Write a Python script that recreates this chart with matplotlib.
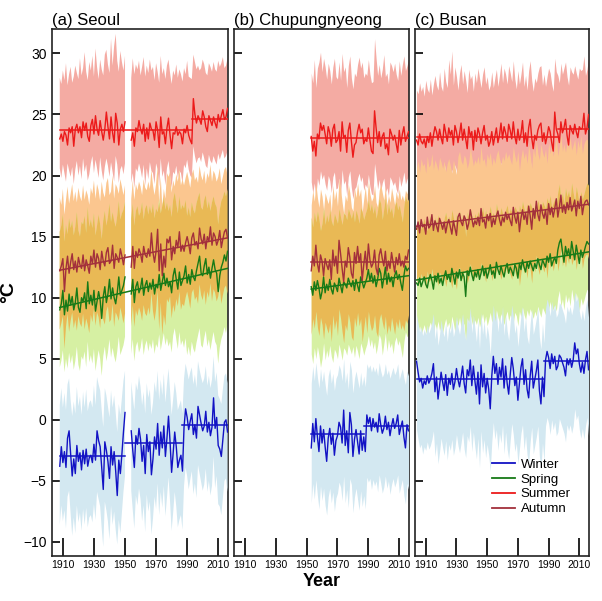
import numpy as np
import matplotlib
matplotlib.use("Agg")
import matplotlib.pyplot as plt

plt.rcParams['font.family'] = ['Liberation Sans', 'DejaVu Sans']
nan = np.nan

station_titles = ["(a) Seoul", "(b) Chupungnyeong", "(c) Busan"]
season_names = ["Winter", "Spring", "Summer", "Autumn"]
x_ticks = [1910, 1930, 1950, 1970, 1990, 2010]
y_ticks = [-10, -5, 0, 5, 10, 15, 20, 25, 30]

# ---------------- Seoul (1908-2016, 1951-1953 missing) ----------------
seoul_years = list(range(1908, 2017))
seoul_summer = [
    23.0, 23.4, 22.8, 23.6, 23.3, 22.5, 23.9, 23.5, 24.0, 22.4,
    23.8, 24.2, 23.5, 24.0, 23.1, 24.4, 23.7, 24.3, 23.2, 22.8,
    24.1, 24.6, 23.4, 24.9, 23.8, 23.3, 24.5, 23.6, 22.9, 23.8,
    25.2, 24.0, 23.0, 24.8, 23.5, 22.7, 25.1, 24.3, 22.5, 23.8,
    24.2, 23.6, 24.4, nan, nan, nan, 22.9, 23.5, 22.4, 23.9,
    23.6, 24.5, 23.8, 23.4, 24.2, 22.8, 23.9, 23.0, 24.3, 23.8,
    23.7, 22.9, 24.4, 23.7, 22.3, 24.8, 23.4, 23.6, 22.6, 23.9,
    24.7, 23.3, 22.2, 23.5, 23.4, 24.0, 23.3, 23.6, 23.4, 22.6,
    23.8, 23.5, 24.1, 23.3, 22.9, 22.6, 26.3, 25.0, 24.3, 24.9,
    24.6, 24.2, 25.3, 24.8, 24.0, 23.6, 24.9, 24.5, 24.1, 24.8,
    24.3, 23.9, 25.0, 24.4, 24.9, 25.4, 24.6, 24.8, 25.5]
seoul_summer_hi = [
    28.0, 27.5, 28.6, 27.8, 29.2, 27.4, 28.3, 28.9, 27.6, 28.1,
    29.0, 28.4, 27.9, 29.6, 28.2, 28.8, 30.1, 28.5, 27.8, 29.3,
    28.6, 29.8, 28.1, 30.4, 28.9, 27.9, 29.5, 28.7, 28.2, 29.9,
    30.3, 29.1, 28.4, 31.2, 29.0, 30.6, 31.6, 29.4, 28.5, 30.2,
    29.3, 28.6, 29.8, nan, nan, nan, 28.0, 29.6, 28.3, 29.1,
    28.7, 29.4, 28.2, 28.9, 29.7, 28.1, 29.0, 28.4, 29.5, 28.6,
    28.9, 27.8, 29.2, 28.5, 27.6, 29.8, 28.3, 28.8, 27.9, 29.0,
    29.5, 28.4, 27.5, 28.6, 28.2, 29.1, 28.0, 28.7, 28.3, 27.7,
    28.8, 28.3, 29.4, 28.1, 28.0, 27.9, 29.9, 29.3, 28.7, 29.0,
    28.6, 28.8, 29.5, 29.1, 28.4, 28.2, 29.2, 28.9, 28.5, 29.3,
    28.7, 28.5, 29.4, 28.9, 29.2, 29.7, 28.8, 29.0, 29.6]
seoul_summer_lo = [
    20.6, 19.8, 20.9, 20.2, 19.5, 21.0, 20.4, 19.9, 20.7, 19.3,
    20.5, 21.2, 20.0, 20.8, 19.7, 21.4, 20.3, 20.9, 19.6, 20.1,
    21.0, 21.6, 20.2, 21.3, 20.6, 19.8, 21.5, 20.4, 19.6, 20.7,
    21.4, 20.8, 19.9, 21.1, 20.3, 19.5, 21.6, 20.9, 19.4, 20.5,
    20.8, 20.1, 21.0, nan, nan, nan, 19.4, 20.2, 19.0, 20.6,
    20.3, 21.0, 20.5, 19.8, 20.9, 19.2, 20.6, 19.7, 21.1, 20.4,
    20.2, 19.3, 21.0, 20.5, 19.1, 21.4, 19.9, 20.4, 19.2, 20.6,
    21.2, 20.0, 19.0, 20.3, 20.1, 20.8, 19.8, 20.4, 20.2, 19.4,
    20.9, 20.6, 21.3, 20.5, 20.0, 19.8, 22.4, 21.6, 21.0, 21.4,
    21.5, 21.1, 21.9, 21.4, 20.8, 20.6, 21.7, 21.2, 21.0, 21.6,
    21.2, 20.9, 21.8, 21.3, 21.7, 22.1, 21.4, 21.6, 22.0]
seoul_autumn = [
    12.2, 12.6, 13.2, 10.5, 12.4, 13.4, 12.0, 12.9, 13.6, 12.3,
    13.0, 12.1, 13.3, 12.7, 12.4, 13.5, 12.2, 13.1, 12.6, 12.0,
    13.4, 12.8, 13.9, 12.5, 13.6, 13.2, 12.3, 13.8, 13.0, 12.6,
    13.7, 14.1, 12.8, 13.0, 14.3, 12.4, 13.6, 13.3, 12.9, 14.0,
    13.4, 12.7, 13.5, nan, nan, nan, 12.5, 14.2, 12.4, 13.8,
    13.3, 14.0, 13.6, 12.9, 14.2, 13.5, 13.3, 14.0, 13.4, 15.3,
    13.7, 12.9, 13.8, 15.6, 12.2, 14.4, 11.8, 13.4, 12.5, 14.8,
    14.5, 15.0, 13.1, 14.2, 13.6, 14.7, 14.1, 15.4, 13.8, 14.3,
    13.8, 14.5, 15.0, 14.4, 13.6, 14.9, 15.3, 14.3, 14.6, 14.0,
    15.7, 14.8, 14.4, 15.2, 14.0, 15.0, 14.6, 15.8, 14.3, 15.3,
    15.0, 14.3, 14.7, 15.5, 14.1, 14.8, 15.4, 15.6, 14.9]
seoul_autumn_hi = [
    18.2, 17.6, 18.9, 16.8, 18.0, 19.1, 17.7, 18.5, 19.3, 17.9,
    18.7, 17.8, 19.0, 18.3, 17.9, 19.2, 18.0, 18.8, 18.4, 17.6,
    19.0, 18.5, 19.6, 18.1, 19.3, 18.8, 17.9, 19.5, 18.6, 18.2,
    19.4, 19.8, 18.4, 18.7, 20.0, 18.1, 19.3, 19.0, 18.5, 19.7,
    19.1, 18.4, 19.2, nan, nan, nan, 18.1, 19.6, 18.0, 19.3,
    18.8, 19.5, 19.1, 18.4, 19.7, 19.0, 18.8, 19.5, 18.9, 20.5,
    19.2, 18.4, 19.3, 20.8, 17.8, 19.9, 17.5, 18.9, 18.1, 20.2,
    19.9, 20.3, 18.6, 19.6, 19.1, 20.1, 19.5, 20.6, 19.2, 19.7,
    19.2, 19.8, 20.3, 19.7, 19.0, 20.1, 20.5, 19.6, 19.9, 19.4,
    20.8, 20.0, 19.6, 20.4, 19.3, 20.2, 19.8, 20.9, 19.5, 20.4,
    20.1, 19.5, 19.9, 20.6, 19.3, 19.9, 20.5, 20.7, 20.0]
seoul_autumn_lo = [
    7.4, 7.9, 8.5, 5.8, 7.6, 8.7, 7.2, 8.1, 8.8, 7.5,
    8.2, 7.3, 8.5, 7.9, 7.6, 8.7, 7.4, 8.3, 7.8, 7.1,
    8.6, 8.0, 9.1, 7.7, 8.8, 8.4, 7.5, 9.0, 8.2, 7.8,
    8.9, 9.3, 8.0, 8.2, 9.5, 7.6, 8.8, 8.5, 8.1, 9.2,
    8.6, 7.9, 8.7, nan, nan, nan, 7.7, 9.4, 7.6, 9.0,
    8.5, 9.2, 8.8, 8.1, 9.4, 8.7, 8.5, 9.2, 8.6, 10.4,
    8.9, 8.1, 9.0, 10.6, 7.4, 9.6, 7.0, 8.6, 7.7, 9.9,
    9.6, 10.1, 8.3, 9.4, 8.8, 9.9, 9.3, 10.5, 9.0, 9.5,
    9.3, 10.0, 10.5, 9.9, 9.1, 10.4, 10.7, 9.8, 10.1, 9.5,
    11.1, 10.2, 9.8, 10.6, 9.4, 10.5, 10.0, 11.2, 9.7, 10.7,
    10.4, 9.7, 10.1, 10.9, 9.5, 10.2, 10.8, 11.0, 10.3]
seoul_spring = [
    9.0, 9.5, 10.6, 8.6, 9.8, 8.9, 10.3, 9.4, 10.1, 9.0,
    9.6, 10.8, 9.2, 8.8, 10.0, 9.7, 10.4, 9.1, 11.3, 9.5,
    10.2, 9.4, 10.6, 8.9, 9.7, 10.5, 9.8, 8.3, 10.1, 10.9,
    9.6, 10.3, 11.5, 9.9, 10.8, 10.0, 9.5, 10.4, 11.7, 10.2,
    10.6, 11.0, 11.7, nan, nan, nan, 10.3, 11.5, 9.6, 10.9,
    11.3, 10.4, 10.8, 11.6, 10.2, 11.0, 11.4, 10.5, 11.2, 10.7,
    11.5, 10.3, 11.1, 10.8, 11.9, 10.6, 11.3, 12.0, 11.0, 11.6,
    10.9, 11.3, 10.4, 11.8, 12.4, 11.5, 10.7, 12.1, 11.0, 11.4,
    11.8, 12.6, 11.2, 11.9, 11.1, 12.3, 11.7, 11.4, 12.2, 12.8,
    13.4, 12.0, 11.8, 12.6, 13.2, 11.9, 12.5, 11.6, 12.4, 13.1,
    12.3, 12.0, 10.5, 11.8, 12.5, 12.9, 13.5, 13.0, 13.8]
seoul_spring_hi = [
    15.4, 15.9, 16.8, 14.6, 16.0, 15.2, 16.5, 15.7, 16.3, 15.1,
    15.8, 17.0, 15.5, 15.0, 16.2, 16.0, 16.7, 15.3, 17.4, 15.8,
    16.4, 15.7, 16.9, 15.1, 15.9, 16.8, 16.0, 14.8, 16.3, 17.1,
    15.9, 16.6, 17.7, 16.2, 17.0, 16.3, 15.8, 16.7, 17.9, 16.4,
    16.9, 17.2, 17.8, nan, nan, nan, 16.5, 17.7, 15.9, 17.1,
    17.5, 16.7, 17.0, 17.8, 16.4, 17.3, 17.6, 16.8, 17.5, 16.9,
    17.7, 16.5, 17.3, 17.0, 18.1, 16.9, 17.5, 18.2, 17.2, 17.8,
    17.1, 17.6, 16.6, 18.0, 18.6, 17.7, 16.9, 18.3, 17.2, 17.6,
    17.3, 18.0, 16.7, 17.4, 16.6, 17.8, 17.2, 16.9, 17.7, 18.2,
    18.6, 17.4, 17.2, 18.0, 18.4, 17.3, 17.9, 17.1, 17.8, 18.3,
    17.7, 17.4, 16.0, 17.2, 17.9, 18.2, 18.7, 18.3, 18.9]
seoul_spring_lo = [
    4.3, 4.8, 5.7, 3.9, 5.0, 4.2, 5.5, 4.6, 5.3, 4.1,
    4.8, 6.0, 4.5, 4.0, 5.2, 4.9, 5.6, 4.3, 6.4, 4.7,
    5.3, 4.6, 5.8, 4.0, 4.9, 5.7, 5.0, 3.6, 5.2, 6.0,
    4.8, 5.5, 6.6, 5.1, 5.9, 5.2, 4.7, 5.6, 6.8, 5.3,
    5.7, 6.1, 6.8, nan, nan, nan, 5.4, 6.6, 4.8, 6.0,
    6.4, 5.5, 5.9, 6.7, 5.3, 6.1, 6.5, 5.6, 6.3, 5.8,
    6.6, 5.4, 6.2, 5.9, 7.0, 5.7, 6.4, 7.1, 6.1, 6.7,
    6.0, 6.4, 5.5, 6.9, 7.5, 6.6, 5.8, 7.2, 6.1, 6.5,
    5.9, 6.7, 5.3, 6.0, 5.2, 6.4, 5.8, 5.5, 6.3, 6.9,
    7.5, 6.1, 5.9, 6.7, 7.3, 6.0, 6.6, 5.7, 6.5, 7.2,
    6.4, 6.1, 4.6, 5.9, 6.6, 7.0, 7.6, 7.1, 7.9]
seoul_winter = [
    -3.8, -2.2, -3.5, -2.6, -3.9, -1.5, -0.9, -2.8, -4.6, -3.2,
    -4.4, -2.1, -3.4, -2.7, -4.1, -2.5, -3.6, -2.4, -3.8, -3.1,
    -2.9, -3.5, -2.0, -3.3, -0.9, -1.7, -2.2, -3.9, -5.7, -1.8,
    -2.5, -3.4, -4.8, -2.2, -3.7, -2.6, -4.2, -6.2, -3.3, -4.4,
    -2.8, -1.0, 0.6, nan, nan, nan, -0.9, -2.5, -3.9, -1.3,
    -2.0, -0.7, -1.6, -3.4, -2.1, -4.4, -1.2, -2.6, -1.8, -4.5,
    -3.2, -1.4, -2.4, -0.3, -2.9, -1.0, -2.3, -0.5, -3.0, -1.5,
    0.3, -1.8, -4.3, -2.7, -1.0, -2.2, -3.9, -3.3, -2.9, -4.2,
    -0.6, 0.9, 0.2, -0.8, -0.1, 0.5, -1.2, -0.4, -1.5, 1.1,
    0.4, -0.3, -0.9, -0.5, 0.7, -1.0, -0.2, -1.3, -0.6, 1.8,
    -0.7, 0.2, -2.1, -2.4, -3.0, -1.6, -0.2, 0.0, -1.0]
seoul_winter_hi = [
    1.2, 2.6, 1.0, 2.2, 0.8, 2.9, 3.4, 1.6, 0.3, 1.5,
    0.5, 2.7, 1.1, 1.9, 0.4, 2.3, 1.0, 2.5, 0.7, 1.4,
    1.6, 1.0, 2.8, 1.2, 3.5, 2.9, 2.4, 0.8, -0.6, 2.6,
    2.0, 1.1, 0.2, 2.4, 1.0, 2.0, 0.6, -1.0, 1.3, 0.4,
    1.8, 3.2, 4.0, nan, nan, nan, 3.1, 1.9, 0.8, 3.0,
    2.4, 3.6, 2.7, 1.2, 2.3, 0.5, 3.0, 1.8, 2.5, 0.4,
    1.4, 3.1, 2.2, 4.0, 1.6, 3.3, 2.0, 3.8, 1.4, 2.9,
    4.2, 2.4, 0.4, 1.7, 3.1, 2.2, 0.8, 1.2, 1.6, 0.5,
    3.4, 4.6, 4.0, 3.3, 3.9, 4.3, 2.9, 3.7, 2.6, 4.8,
    4.1, 3.5, 3.0, 3.4, 4.4, 2.8, 3.6, 2.6, 3.3, 5.2,
    3.1, 3.9, 2.0, 1.7, 1.3, 2.5, 3.6, 3.8, 3.0]
seoul_winter_lo = [
    -8.6, -7.0, -8.3, -7.4, -8.9, -6.3, -5.8, -7.7, -9.5, -8.0,
    -9.3, -7.0, -8.4, -7.6, -9.1, -7.3, -8.6, -7.2, -8.8, -8.0,
    -7.8, -8.4, -6.9, -8.2, -5.9, -6.5, -7.1, -8.9, -10.4, -6.7,
    -7.4, -8.3, -9.8, -7.0, -8.6, -7.5, -9.0, -10.2, -8.2, -9.3,
    -7.6, -5.9, -4.6, nan, nan, nan, -5.8, -7.4, -8.9, -6.2,
    -7.0, -5.6, -6.5, -8.3, -7.0, -9.2, -6.1, -7.5, -6.7, -9.4,
    -8.1, -6.3, -7.3, -5.2, -7.8, -5.9, -7.2, -5.4, -7.9, -6.4,
    -4.7, -6.7, -9.1, -7.6, -5.9, -7.1, -8.8, -8.2, -7.8, -9.0,
    -5.4, -3.9, -4.6, -5.7, -4.9, -4.2, -6.1, -5.2, -6.4, -3.7,
    -4.4, -5.1, -5.8, -5.3, -4.0, -5.9, -5.0, -6.2, -5.4, -3.0,
    -5.6, -4.6, -6.9, -7.1, -7.8, -6.4, -5.0, -4.8, -5.9]

# ---------------- Chupungnyeong (1953-2016) ----------------
chup_years = list(range(1953, 2017))
chup_summer = [
    23.2, 22.0, 22.8, 21.6, 23.4, 23.0, 24.3, 23.7, 24.1, 23.4,
    22.6, 24.0, 23.5, 22.4, 23.8, 24.2, 22.7, 22.9, 23.6, 22.0,
    24.4, 23.1, 23.3, 21.9, 23.7, 24.3, 22.8, 21.5, 22.5, 22.7,
    23.6, 24.2, 23.5, 23.8, 22.6, 23.0, 22.8, 23.9, 22.9, 22.0,
    21.8, 25.3, 23.9, 22.7, 23.6, 22.4, 23.2, 23.5, 22.2, 22.6,
    21.7, 23.8, 23.4, 22.9, 23.3, 22.6, 21.9, 23.7, 22.5, 23.4,
    24.0, 22.8, 23.2, 23.6]
chup_summer_hi = [
    28.4, 27.6, 29.5, 27.2, 28.8, 29.3, 30.1, 28.5, 29.6, 28.9,
    27.9, 29.2, 28.6, 27.5, 28.9, 29.6, 28.1, 27.9, 29.3, 27.8,
    30.0, 28.5, 28.9, 27.2, 29.0, 29.8, 28.0, 27.1, 28.4, 28.1,
    29.1, 29.7, 28.8, 29.3, 28.0, 28.4, 28.2, 29.5, 28.3, 27.6,
    27.7, 31.2, 29.6, 28.2, 29.1, 28.0, 28.7, 29.9, 28.1, 28.4,
    27.5, 29.3, 29.0, 28.5, 29.2, 28.3, 27.8, 29.4, 28.2, 29.1,
    29.8, 28.6, 29.0, 29.5]
chup_summer_lo = [
    19.5, 18.6, 19.4, 18.2, 19.8, 19.2, 20.4, 19.7, 20.1, 19.3,
    18.8, 20.0, 19.6, 18.6, 19.9, 20.3, 18.9, 19.0, 19.8, 18.4,
    20.5, 19.3, 19.6, 18.3, 19.9, 20.4, 19.0, 18.1, 18.9, 19.1,
    19.8, 20.2, 19.5, 19.9, 18.8, 19.3, 19.0, 20.1, 19.1, 18.5,
    18.4, 21.0, 20.0, 18.9, 19.7, 18.7, 19.4, 19.8, 18.6, 19.0,
    18.3, 19.9, 19.6, 19.2, 19.5, 18.9, 18.5, 20.0, 19.1, 19.6,
    20.3, 19.3, 19.7, 20.0]
chup_autumn = [
    12.2, 13.4, 12.6, 14.3, 12.8, 12.1, 13.5, 13.0, 11.8, 13.2,
    12.7, 12.3, 13.1, 11.5, 13.9, 12.6, 13.4, 12.0, 14.7, 13.6,
    12.4, 11.3, 13.0, 12.5, 14.1, 13.3, 12.0, 11.6, 13.7, 12.8,
    14.2, 12.9, 13.6, 11.4, 12.7, 13.8, 12.3, 14.4, 13.1, 12.5,
    12.8, 13.9, 12.4, 11.9, 13.5, 14.0, 13.2, 12.6, 13.8, 12.2,
    13.0, 12.4, 13.7, 12.9, 12.1, 13.3, 12.7, 13.6, 12.6, 13.0,
    12.5, 13.4, 13.1, 13.9]
chup_autumn_hi = [
    17.6, 18.8, 17.9, 19.4, 18.2, 17.4, 18.9, 18.3, 17.2, 18.6,
    18.1, 17.7, 18.5, 17.0, 19.2, 18.0, 18.8, 17.5, 19.8, 18.9,
    17.8, 16.9, 18.4, 17.9, 19.3, 18.6, 17.4, 17.1, 19.0, 18.2,
    19.4, 18.3, 18.9, 17.0, 18.1, 19.1, 17.7, 19.6, 18.5, 17.9,
    18.2, 19.2, 17.8, 17.4, 18.8, 19.3, 18.6, 18.0, 19.1, 17.6,
    18.4, 17.8, 19.0, 18.3, 17.6, 18.7, 18.1, 18.9, 18.0, 18.4,
    17.9, 18.8, 18.5, 19.2]
chup_autumn_lo = [
    7.0, 8.3, 7.5, 8.9, 7.6, 6.9, 8.4, 7.8, 6.6, 8.0,
    7.5, 7.1, 7.9, 6.4, 8.6, 7.4, 8.2, 6.9, 9.1, 8.3,
    7.2, 6.3, 7.8, 7.3, 8.7, 8.0, 6.8, 6.5, 8.4, 7.6,
    8.8, 7.7, 8.3, 6.4, 7.5, 8.5, 7.1, 8.9, 7.9, 7.3,
    7.6, 8.6, 7.2, 6.8, 8.2, 8.7, 8.0, 7.4, 8.5, 7.0,
    7.8, 7.2, 8.4, 7.7, 7.0, 8.1, 7.5, 8.3, 7.4, 7.8,
    7.3, 8.2, 7.9, 8.6]
chup_spring = [
    10.9, 10.2, 11.3, 10.6, 11.4, 10.8, 9.9, 10.5, 11.7, 10.4,
    11.1, 10.6, 11.5, 10.7, 10.3, 11.2, 10.9, 10.5, 11.6, 11.0,
    10.4, 11.3, 11.1, 10.8, 11.6, 11.2, 10.9, 11.4, 10.6, 11.5,
    11.0, 10.5, 11.7, 11.3, 10.8, 11.2, 11.6, 12.3, 11.4, 12.0,
    11.2, 11.8, 10.9, 11.5, 12.4, 12.0, 10.8, 11.6, 12.5, 11.1,
    12.0, 11.3, 11.7, 10.9, 11.8, 12.2, 11.5, 11.9, 11.2, 10.6,
    11.8, 12.6, 12.2, 12.4]
chup_spring_hi = [
    16.6, 15.8, 17.0, 16.2, 17.1, 16.4, 15.5, 16.1, 17.4, 16.0,
    16.8, 16.2, 17.2, 16.3, 15.9, 16.9, 16.5, 16.1, 17.3, 16.6,
    16.0, 17.0, 16.8, 16.4, 17.3, 16.9, 16.5, 17.1, 16.2, 17.2,
    16.7, 16.1, 17.4, 17.0, 16.4, 16.9, 17.3, 18.0, 17.1, 17.7,
    16.9, 17.5, 16.5, 17.2, 18.1, 17.7, 16.4, 17.3, 18.2, 16.8,
    17.7, 17.0, 17.4, 16.5, 17.5, 17.9, 17.2, 17.6, 16.9, 16.2,
    17.5, 18.3, 17.9, 18.1]
chup_spring_lo = [
    5.4, 4.6, 5.9, 5.0, 6.0, 5.3, 4.3, 5.0, 6.3, 4.9,
    5.7, 5.1, 6.1, 5.2, 4.7, 5.8, 5.5, 5.0, 6.2, 5.6,
    4.9, 5.9, 5.7, 5.3, 6.2, 5.8, 5.4, 6.0, 5.1, 6.1,
    5.6, 5.0, 6.3, 5.9, 5.3, 5.8, 6.2, 6.9, 6.0, 6.6,
    5.8, 6.4, 5.4, 6.1, 7.0, 6.6, 5.3, 6.2, 7.1, 5.6,
    6.6, 5.9, 6.3, 5.4, 6.4, 6.8, 6.1, 6.5, 5.8, 5.1,
    6.4, 7.2, 6.8, 7.0]
chup_winter = [
    -2.3, -0.3, -1.8, 0.1, -1.4, -2.6, -0.5, -1.9, -0.8, -2.2,
    -3.4, -1.5, -0.7, -2.0, -1.1, -2.9, -1.7, -1.3, -0.2, -0.6,
    -1.9, 0.8, -2.1, -0.9, -2.7, 0.6, -0.4, -3.0, -1.6, -0.8,
    -1.8, -2.8, -0.9, -2.5, -1.4, -2.6, 0.4, -0.3, 0.2, -0.9,
    0.1, -0.6, -0.2, -1.0, 0.5, -0.4, -1.1, -0.7, 0.3, -0.8,
    -0.2, -1.3, -0.5, 0.1, -0.7, -0.3, 0.4, -1.2, -0.6, -0.1,
    -1.4, -2.3, -0.4, -0.9]
chup_winter_hi = [
    3.0, 4.4, 3.2, 4.7, 3.5, 2.6, 4.2, 3.1, 4.0, 2.9,
    2.0, 3.6, 4.2, 3.0, 3.8, 2.4, 3.4, 3.7, 4.5, 4.1,
    3.2, 5.0, 3.0, 3.9, 2.5, 4.8, 4.1, 2.2, 3.4, 4.0,
    3.3, 2.6, 3.9, 2.8, 3.6, 2.7, 4.6, 4.2, 4.5, 3.9,
    4.4, 3.9, 4.3, 3.6, 4.7, 4.0, 3.5, 3.8, 4.6, 3.7,
    4.1, 3.4, 3.9, 4.3, 3.7, 4.0, 4.6, 3.3, 3.8, 4.2,
    3.4, 2.9, 4.0, 3.6]
chup_winter_lo = [
    -6.8, -5.2, -6.5, -4.9, -6.2, -7.3, -5.4, -6.6, -5.6, -7.0,
    -7.8, -6.3, -5.6, -6.8, -5.9, -7.5, -6.4, -6.0, -5.1, -5.5,
    -6.6, -4.6, -6.8, -5.7, -7.2, -4.8, -5.3, -7.6, -6.3, -5.6,
    -6.5, -7.4, -5.8, -7.1, -6.2, -7.3, -4.7, -5.1, -4.8, -5.7,
    -4.9, -5.4, -5.0, -5.9, -4.5, -5.2, -6.0, -5.5, -4.6, -5.6,
    -5.0, -6.1, -5.3, -4.8, -5.5, -5.1, -4.5, -6.0, -5.4, -4.9,
    -6.2, -6.9, -5.2, -5.7]

# ---------------- Busan (1904-2016) ----------------
busan_years = list(range(1904, 2017))
busan_summer = [
    22.9, 22.5, 23.4, 22.8, 22.6, 23.0, 22.3, 23.2, 22.7, 23.5,
    22.4, 23.3, 24.0, 23.6, 22.9, 23.8, 23.1, 22.6, 24.2, 23.5,
    22.8, 23.9, 23.3, 23.7, 22.5, 24.1, 23.6, 22.7, 23.4, 24.3,
    22.9, 23.8, 23.0, 22.2, 24.0, 23.2, 23.6, 22.1, 23.7, 22.8,
    23.9, 23.4, 22.6, 23.5, 24.1, 22.9, 23.3, 22.4, 22.8, 23.6,
    22.5, 23.2, 23.9, 22.7, 23.3, 24.3, 23.0, 24.0, 23.5, 22.8,
    24.2, 23.7, 23.0, 24.4, 23.2, 22.6, 23.8, 22.9, 23.4, 24.5,
    22.7, 23.5, 22.4, 23.9, 24.6, 23.1, 22.2, 23.3, 22.9, 23.7,
    24.1, 24.3, 22.8, 23.5, 22.6, 23.2, 24.0, 23.6, 22.7, 22.0,
    25.2, 23.8, 23.4, 22.7, 24.4, 23.5, 23.9, 24.6, 23.3, 22.5,
    24.1, 23.7, 23.4, 24.2, 23.6, 23.1, 24.0, 23.8, 23.9, 25.1,
    23.4, 23.9, 25.0]
busan_summer_hi = [
    27.0, 26.7, 27.6, 26.9, 27.3, 26.5, 27.8, 27.1, 26.8, 27.9,
    26.6, 27.5, 28.2, 27.4, 27.0, 28.5, 27.3, 26.9, 28.8, 27.7,
    27.2, 29.5, 28.3, 30.2, 27.4, 28.9, 28.1, 27.0, 28.4, 29.1,
    27.5, 28.6, 27.8, 26.8, 28.7, 27.9, 28.2, 26.9, 28.4, 27.6,
    28.8, 28.0, 27.2, 28.3, 28.9, 27.5, 28.1, 27.0, 27.4, 28.5,
    27.2, 28.0, 28.7, 27.3, 28.2, 29.2, 27.6, 28.8, 28.3, 27.5,
    29.0, 28.4, 27.7, 29.4, 27.9, 27.1, 28.6, 27.5, 28.3, 29.3,
    27.3, 28.2, 27.0, 28.6, 29.4, 27.8, 26.9, 28.0, 27.6, 28.4,
    28.9, 29.0, 27.4, 28.3, 27.3, 28.1, 28.8, 28.4, 27.5, 26.9,
    29.6, 28.5, 28.2, 27.6, 29.2, 28.3, 28.8, 29.3, 28.1, 27.4,
    28.9, 28.5, 28.3, 29.0, 28.4, 27.9, 28.8, 28.6, 28.7, 29.8,
    28.2, 28.7, 29.6]
busan_summer_lo = [
    19.8, 19.4, 20.3, 19.6, 19.5, 19.9, 19.2, 20.1, 19.6, 20.4,
    19.3, 20.2, 20.8, 20.4, 19.8, 20.6, 20.0, 19.5, 21.0, 20.3,
    19.7, 20.7, 20.2, 20.5, 19.4, 20.9, 20.4, 19.6, 20.3, 21.1,
    19.8, 20.6, 19.9, 19.1, 20.8, 20.1, 20.4, 19.0, 20.5, 19.7,
    20.7, 20.3, 19.5, 20.4, 20.9, 19.8, 20.2, 19.3, 19.7, 20.4,
    19.4, 20.1, 20.7, 19.6, 20.2, 21.1, 19.9, 20.8, 20.4, 19.7,
    21.0, 20.5, 19.9, 21.2, 20.1, 19.5, 20.6, 19.8, 20.3, 21.3,
    19.6, 20.4, 19.3, 20.7, 21.4, 20.0, 19.1, 20.2, 19.8, 20.6,
    20.9, 21.1, 19.7, 20.4, 19.5, 20.1, 20.8, 20.5, 19.6, 19.0,
    21.9, 20.7, 20.3, 19.7, 21.2, 20.4, 20.8, 21.4, 20.2, 19.5,
    21.0, 20.6, 20.3, 21.1, 20.5, 20.0, 20.9, 20.7, 20.8, 21.9,
    20.3, 20.8, 21.8]
busan_autumn = [
    15.6, 16.2, 15.3, 16.4, 15.8, 16.0, 15.2, 16.6, 15.7, 15.9,
    16.8, 15.5, 16.3, 15.9, 15.4, 16.5, 16.1, 15.6, 16.2, 15.3,
    16.0, 16.4, 15.8, 15.2, 16.3, 15.7, 15.1, 16.6, 16.9, 16.2,
    15.9, 16.7, 16.4, 15.6, 16.1, 17.2, 16.5, 15.8, 16.3, 16.0,
    16.6, 15.9, 17.3, 16.2, 16.4, 15.7, 16.8, 16.3, 16.9, 15.8,
    16.5, 16.0, 16.7, 17.1, 16.4, 15.9, 16.6, 16.2, 17.0, 16.4,
    16.8, 16.3, 15.9, 17.4, 16.6, 16.1, 17.0, 15.4, 16.5, 17.2,
    16.4, 16.9, 16.0, 17.5, 16.7, 15.6, 17.3, 16.5, 17.9, 16.8,
    16.3, 17.6, 16.9, 16.5, 17.2, 16.0, 17.7, 16.8, 17.4, 16.6,
    17.3, 18.1, 16.6, 17.4, 18.4, 17.0, 17.6, 16.9, 17.8, 17.2,
    18.2, 17.1, 17.5, 18.0, 16.7, 17.9, 17.3, 18.3, 16.8, 17.6,
    17.9, 18.0, 17.6]
busan_autumn_hi = [
    20.6, 21.2, 20.3, 21.4, 20.8, 21.0, 20.2, 21.6, 20.7, 20.9,
    21.8, 20.5, 21.3, 20.9, 20.4, 21.5, 21.1, 20.6, 21.2, 20.3,
    21.0, 21.4, 20.8, 20.2, 21.3, 20.7, 20.1, 21.6, 22.0, 21.2,
    20.9, 21.7, 21.4, 20.6, 21.1, 22.3, 21.5, 20.8, 21.3, 21.0,
    21.6, 20.9, 22.4, 21.2, 21.4, 20.7, 21.8, 21.3, 21.9, 20.8,
    21.5, 21.0, 21.7, 22.1, 21.4, 20.9, 21.6, 21.2, 22.0, 21.4,
    21.8, 21.3, 20.9, 22.4, 21.6, 21.1, 22.0, 20.4, 21.5, 22.2,
    21.4, 21.9, 21.0, 22.5, 21.7, 20.6, 22.3, 21.5, 22.9, 21.8,
    21.3, 22.6, 21.9, 21.5, 22.2, 21.0, 22.7, 21.8, 22.4, 21.6,
    22.3, 23.1, 21.6, 22.4, 23.4, 22.0, 22.6, 21.9, 22.8, 22.2,
    23.2, 22.1, 22.5, 23.0, 21.7, 22.9, 22.3, 23.3, 21.8, 22.6,
    22.9, 23.0, 22.6]
busan_autumn_lo = [
    11.2, 11.8, 10.9, 12.0, 11.4, 11.6, 10.8, 12.2, 11.3, 11.5,
    12.4, 11.1, 11.9, 11.5, 11.0, 12.1, 11.7, 11.2, 11.8, 10.9,
    11.6, 12.0, 11.4, 10.8, 11.9, 11.3, 10.7, 12.2, 12.5, 11.8,
    11.5, 12.3, 12.0, 11.2, 11.7, 12.8, 12.1, 11.4, 11.9, 11.6,
    12.2, 11.5, 12.9, 11.8, 12.0, 11.3, 12.4, 11.9, 12.5, 11.4,
    12.1, 11.6, 12.3, 12.7, 12.0, 11.5, 12.2, 11.8, 12.6, 12.0,
    12.4, 11.9, 11.5, 13.0, 12.2, 11.7, 12.6, 11.0, 12.1, 12.8,
    12.0, 12.5, 11.6, 13.1, 12.3, 11.2, 12.9, 12.1, 13.5, 12.4,
    11.9, 13.2, 12.5, 12.1, 12.8, 11.6, 13.3, 12.4, 13.0, 12.2,
    12.9, 13.7, 12.2, 13.0, 14.0, 12.6, 13.2, 12.5, 13.4, 12.8,
    13.8, 12.7, 13.1, 13.6, 12.3, 13.5, 12.9, 13.9, 12.4, 13.2,
    13.5, 13.6, 13.2]
busan_spring = [
    11.2, 11.0, 11.6, 10.9, 11.3, 11.7, 11.1, 10.8, 11.5, 11.9,
    11.4, 10.7, 11.8, 11.3, 12.0, 11.2, 11.6, 11.0, 11.7, 12.2,
    11.5, 11.9, 11.3, 12.4, 11.8, 11.1, 12.1, 11.6, 12.3, 11.4,
    12.0, 11.7, 10.1, 12.2, 11.8, 12.5, 11.9, 11.4, 12.1, 11.7,
    12.3, 11.5, 12.0, 12.6, 11.8, 12.4, 11.6, 12.1, 12.7, 11.9,
    12.2, 11.6, 12.9, 12.3, 11.9, 12.6, 12.1, 11.7, 12.4, 12.8,
    12.0, 12.5, 12.2, 11.8, 12.7, 12.4, 11.6, 12.8, 12.3, 13.1,
    12.5, 12.1, 12.9, 12.4, 13.0, 12.6, 12.2, 12.8, 12.4, 13.2,
    12.7, 12.3, 13.1, 12.8, 12.5, 13.4, 12.9, 13.6, 12.6, 13.0,
    13.3, 12.8, 13.9, 14.5, 14.8, 13.8, 12.9, 14.2, 13.5, 14.0,
    13.2, 14.6, 13.8, 13.1, 14.3, 13.6, 12.8, 13.9, 13.3, 13.7,
    14.2, 14.6, 14.4]
busan_spring_hi = [
    16.0, 15.7, 16.4, 15.6, 16.1, 16.5, 15.8, 15.5, 16.3, 16.7,
    16.2, 15.4, 16.6, 16.1, 16.8, 16.0, 16.4, 15.8, 16.5, 17.0,
    16.3, 16.7, 16.1, 17.2, 16.6, 15.9, 16.9, 16.4, 17.1, 16.2,
    16.8, 16.5, 15.0, 17.0, 16.6, 17.3, 16.7, 16.2, 16.9, 16.5,
    17.1, 16.3, 16.8, 17.4, 16.6, 17.2, 16.4, 16.9, 17.5, 16.7,
    17.0, 16.4, 17.7, 17.1, 16.7, 17.4, 16.9, 16.5, 17.2, 17.6,
    16.8, 17.3, 17.0, 16.6, 17.5, 17.2, 16.4, 17.6, 17.1, 17.9,
    17.3, 16.9, 17.7, 17.2, 17.8, 17.4, 17.0, 17.6, 17.2, 18.0,
    17.5, 17.1, 17.9, 17.6, 17.3, 18.2, 17.7, 18.4, 17.4, 17.8,
    18.1, 17.6, 18.7, 19.3, 18.0, 18.6, 17.7, 19.0, 18.3, 18.8,
    18.0, 19.4, 18.6, 17.9, 19.1, 18.4, 17.6, 18.7, 18.1, 18.5,
    19.0, 19.4, 19.2]
busan_spring_lo = [
    7.3, 7.1, 7.7, 7.0, 7.4, 7.8, 7.2, 6.9, 7.6, 8.0,
    7.5, 6.8, 7.9, 7.4, 8.1, 7.3, 7.7, 7.1, 7.8, 8.3,
    7.6, 8.0, 7.4, 8.5, 7.9, 7.2, 8.2, 7.7, 8.4, 7.5,
    8.1, 7.8, 6.2, 8.3, 7.9, 8.6, 8.0, 7.5, 8.2, 7.8,
    8.4, 7.6, 8.1, 8.7, 7.9, 8.5, 7.7, 8.2, 8.8, 8.0,
    8.3, 7.7, 9.0, 8.4, 8.0, 8.7, 8.2, 7.8, 8.5, 8.9,
    8.1, 8.6, 8.3, 7.9, 8.8, 8.5, 7.7, 8.9, 8.4, 9.2,
    8.6, 8.2, 9.0, 8.5, 9.1, 8.7, 8.3, 8.9, 8.5, 9.3,
    8.8, 8.4, 9.2, 8.9, 8.6, 9.5, 9.0, 9.7, 8.7, 9.1,
    9.4, 8.9, 10.0, 10.6, 9.3, 9.9, 9.0, 10.3, 9.6, 10.1,
    9.3, 10.7, 9.9, 9.2, 10.4, 9.7, 8.9, 10.0, 9.4, 9.8,
    10.3, 10.7, 10.5]
busan_winter = [
    4.8, 3.9, 3.1, 3.4, 2.6, 3.2, 2.9, 3.6, 3.0, 3.3,
    3.8, 4.6, 2.3, 3.5, 1.7, 2.8, 3.9, 3.1, 2.4, 3.7,
    2.0, 3.4, 2.9, 3.8, 2.5, 3.1, 4.2, 3.3, 2.7, 3.5,
    4.4, 3.0, 2.2, 4.1, 3.6, 4.9, 2.8, 4.4, 3.2, 2.1,
    3.9, 1.3, 4.5, 2.7, 3.8, 2.2, 3.4, 2.5, 0.9, 3.6,
    5.2, 3.8, 4.6, 2.9, 4.3, 3.5, 5.0, 2.6, 4.4, 3.0,
    2.1, 3.7, 5.1, 4.2, 2.8, 3.5, 1.6, 3.0, 4.3, 5.0,
    2.9, 4.1, 2.5, 1.8, 3.6, 4.8, 2.6, 3.3, 4.0, 4.9,
    2.4, 1.3, 3.5, 1.9, 4.9, 5.6, 5.1, 4.2, 5.4, 4.6,
    5.2, 4.1, 4.4, 5.3, 5.1, 4.7, 4.3, 3.6, 5.0, 4.5,
    5.0, 4.3, 4.9, 6.3, 5.4, 5.8, 4.6, 3.9, 4.7, 3.8,
    4.9, 5.6, 4.1]
busan_winter_hi = [
    8.6, 7.9, 7.2, 7.6, 6.9, 7.4, 7.0, 7.8, 7.1, 7.5,
    8.0, 8.7, 6.6, 7.7, 6.1, 7.0, 8.2, 7.3, 6.8, 8.0,
    6.4, 7.7, 7.1, 8.1, 6.8, 7.4, 8.5, 7.6, 7.0, 7.9,
    8.7, 7.3, 6.5, 8.4, 7.9, 9.2, 7.1, 8.6, 7.5, 6.4,
    8.2, 5.8, 8.8, 7.0, 8.1, 6.6, 7.7, 6.9, 5.3, 7.9,
    9.4, 8.1, 8.9, 7.2, 8.6, 7.8, 9.3, 6.9, 8.7, 7.3,
    6.5, 8.0, 9.4, 8.5, 7.1, 7.8, 6.0, 7.3, 8.6, 9.3,
    7.2, 8.4, 6.8, 6.2, 7.9, 9.1, 7.0, 7.6, 8.3, 9.2,
    6.8, 5.8, 7.9, 6.3, 9.1, 9.9, 9.4, 8.5, 9.7, 8.9,
    9.5, 8.4, 8.7, 9.6, 9.4, 9.0, 8.6, 7.9, 9.3, 8.8,
    9.3, 8.6, 9.2, 10.5, 9.7, 10.1, 8.9, 8.2, 9.0, 8.1,
    9.2, 9.9, 8.4]
busan_winter_lo = [
    -0.8, -1.6, -2.3, -2.0, -2.8, -2.2, -2.5, -1.8, -2.4, -2.1,
    -1.6, -0.9, -3.0, -1.9, -3.6, -2.6, -1.5, -2.3, -2.9, -1.7,
    -3.3, -2.0, -2.5, -1.6, -2.9, -2.3, -1.2, -2.1, -2.7, -1.9,
    -1.0, -2.4, -3.1, -1.3, -1.8, -0.5, -2.6, -1.0, -2.2, -3.2,
    -1.5, -3.9, -0.9, -2.7, -1.6, -3.1, -2.0, -2.9, -4.2, -1.8,
    -0.2, -1.6, -0.8, -2.5, -1.1, -1.9, -0.4, -2.8, -1.0, -2.4,
    -3.2, -1.7, -0.3, -1.2, -2.6, -1.9, -3.6, -2.4, -1.1, -0.4,
    -2.5, -1.3, -2.9, -3.5, -1.8, -0.6, -2.8, -2.1, -1.4, -0.5,
    -3.0, -4.0, -1.9, -3.4, -0.5, 0.2, -0.3, -1.2, 0.0, -0.8,
    -0.2, -1.3, -1.0, 0.1, -0.3, -0.7, -1.1, -1.8, -0.4, -0.9,
    -0.4, -1.1, -0.5, 0.9, 0.0, 0.4, -0.8, -1.5, -0.7, -1.6,
    -0.5, 0.2, -1.3]

# Fitted trend / step segments: [start_year, end_year, start_value, end_value]
seoul_winter_fit = [[1908, 1950, -3.0, -3.0], [1950, 1987, -1.9, -1.9], [1987, 2016, -0.4, -0.4]]
seoul_spring_fit = [[1908, 2016, 9.2, 12.4]]
seoul_summer_fit = [[1908, 1993, 23.7, 23.7], [1993, 2016, 24.6, 24.6]]
seoul_autumn_fit = [[1908, 2016, 12.25, 14.9]]
chup_winter_fit = [[1953, 1987, -1.2, -1.2], [1987, 2016, -0.5, -0.5]]
chup_spring_fit = [[1953, 2016, 10.7, 11.8]]
chup_summer_fit = [[1953, 2016, 23.1, 23.1]]
chup_autumn_fit = [[1953, 2016, 12.95, 12.95]]
busan_winter_fit = [[1904, 1987, 3.35, 3.35], [1987, 2016, 4.85, 4.85]]
busan_spring_fit = [[1904, 2016, 11.45, 13.75]]
busan_summer_fit = [[1904, 1996, 23.15, 23.15], [1996, 2016, 23.85, 23.85]]
busan_autumn_fit = [[1904, 2016, 15.85, 17.65]]

line_colors = {"Winter": "#1212c4", "Spring": "#177a17", "Summer": "#ec1a1a", "Autumn": "#a3303c"}
band_colors = {"Winter": "#d3e8f1", "Spring": "#d6f0a3", "Summer": "#f4aba3", "Autumn": "#fbc68f"}
overlap_color = "#e9b955"

stations = [
    dict(title=station_titles[0], years=seoul_years,
         Winter=(seoul_winter, seoul_winter_lo, seoul_winter_hi, seoul_winter_fit),
         Spring=(seoul_spring, seoul_spring_lo, seoul_spring_hi, seoul_spring_fit),
         Summer=(seoul_summer, seoul_summer_lo, seoul_summer_hi, seoul_summer_fit),
         Autumn=(seoul_autumn, seoul_autumn_lo, seoul_autumn_hi, seoul_autumn_fit)),
    dict(title=station_titles[1], years=chup_years,
         Winter=(chup_winter, chup_winter_lo, chup_winter_hi, chup_winter_fit),
         Spring=(chup_spring, chup_spring_lo, chup_spring_hi, chup_spring_fit),
         Summer=(chup_summer, chup_summer_lo, chup_summer_hi, chup_summer_fit),
         Autumn=(chup_autumn, chup_autumn_lo, chup_autumn_hi, chup_autumn_fit)),
    dict(title=station_titles[2], years=busan_years,
         Winter=(busan_winter, busan_winter_lo, busan_winter_hi, busan_winter_fit),
         Spring=(busan_spring, busan_spring_lo, busan_spring_hi, busan_spring_fit),
         Summer=(busan_summer, busan_summer_lo, busan_summer_hi, busan_summer_fit),
         Autumn=(busan_autumn, busan_autumn_lo, busan_autumn_hi, busan_autumn_fit)),
]

for st in stations:
    n = len(st["years"])
    for s in season_names:
        for arr in st[s][:3]:
            assert len(arr) == n, (st["title"], s, len(arr), n)

W, H = 602, 601
fig = plt.figure(figsize=(W / 100, H / 100), dpi=100)
lefts = [52, 234, 415]
widths = [176, 175, 174]
top_px, bot_px = 29, 556

axes = []
for i, st in enumerate(stations):
    ax = fig.add_axes([lefts[i] / W, 1 - bot_px / H, widths[i] / W, (bot_px - top_px) / H])
    axes.append(ax)
    yrs = np.array(st["years"], dtype=float)
    arr = {s: [np.array(a, dtype=float) for a in st[s][:3]] for s in season_names}

    # bands
    ax.fill_between(yrs, arr["Summer"][1], arr["Summer"][2], color=band_colors["Summer"], lw=0, zorder=1)
    ax.fill_between(yrs, arr["Autumn"][1], arr["Autumn"][2], color=band_colors["Autumn"], lw=0, zorder=2)
    ax.fill_between(yrs, arr["Spring"][1], arr["Spring"][2], color=band_colors["Spring"], lw=0, zorder=2)
    ov_lo = np.maximum(arr["Autumn"][1], arr["Spring"][1])
    ov_hi = np.minimum(arr["Autumn"][2], arr["Spring"][2])
    ax.fill_between(yrs, ov_lo, ov_hi, where=ov_hi > ov_lo, color=overlap_color, lw=0, zorder=3)
    ax.fill_between(yrs, arr["Winter"][1], arr["Winter"][2], color=band_colors["Winter"], lw=0, zorder=3)

    # series and fits
    for s in season_names:
        ax.plot(yrs, arr[s][0], color=line_colors[s], lw=1.0, zorder=5, label=s)
        for seg in st[s][3]:
            ax.plot([seg[0], seg[1]], [seg[2], seg[3]], color=line_colors[s], lw=1.1, zorder=6)

    ax.set_xlim(1903, 2016.3)
    ax.set_ylim(-11.15, 32)
    ax.set_xticks(x_ticks)
    ax.set_yticks(y_ticks)
    ax.tick_params(axis='x', direction='in', length=13, width=1.2, labelsize=7.5, pad=3, colors='black')
    ax.tick_params(axis='y', direction='in', length=5.5, width=1.2, labelsize=10, pad=4)
    if i > 0:
        ax.tick_params(axis='y', labelleft=False)
    for sp in ax.spines.values():
        sp.set_linewidth(1.2)
        sp.set_color('#222222')
    ax.set_title(st["title"], loc='left', fontsize=12, pad=3)

axes[0].set_ylabel("°C", fontsize=14, fontweight='bold', labelpad=4)
axes[1].set_xlabel("Year", fontsize=13, fontweight='bold', labelpad=2)

handles = [plt.Line2D([], [], color=line_colors[s], lw=1.3) for s in season_names]
axes[2].legend(handles, season_names, loc='upper left', bbox_to_anchor=(0.44, 0.185),
               frameon=False, fontsize=9.5, handlelength=1.8, handletextpad=0.4,
               labelspacing=0.2, borderpad=0, borderaxespad=0)

fig.savefig("out.png", dpi=100)
